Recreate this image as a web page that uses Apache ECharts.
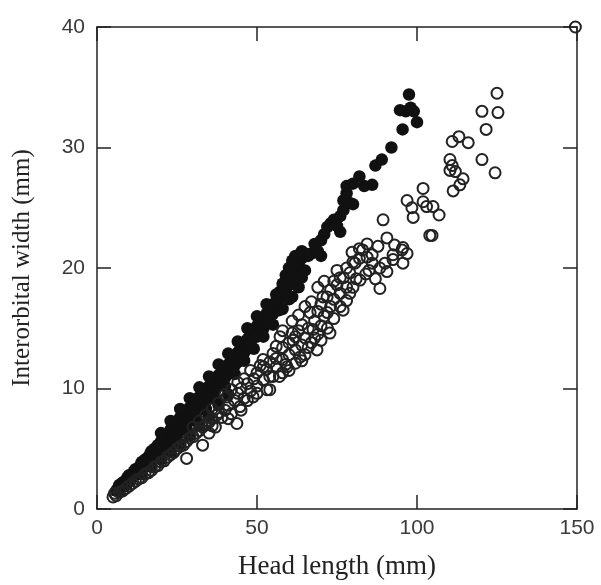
<!DOCTYPE html>
<html>
<head>
<meta charset="utf-8">
<script src="https://cdn.jsdelivr.net/npm/echarts@6/dist/echarts.min.js"></script>
<style>html,body{margin:0;padding:0;background:#fff;}#c{width:601px;height:585px;}</style>
</head>
<body>
<div id="c"></div>
<script>
// Axis ticks
var xTicks = [0, 50, 100, 150];
var yTicks = [0, 10, 20, 30, 40];

// Filled circles (x = head length, y = interorbital width)
var filledX = [6,6.5,7,7,7.5,8,8,8.5,9,9,9.5,10,10,10.5,11,11,11.5,12,12,12.5,13,13,13.5,14,14,14.5,15,15,15.5,16,16,16.5,17,17,17.5,18,18,18.5,19,19,19.5,20,20,20.5,21,21,21.5,22,22,22.5,23,23,23.5,24,24,24.5,25,25,25.5,26,26,26.5,27,27,27.5,28,28,28.5,29,29,29.5,30,30,30.5,31,31,31.5,32,32,33,33,33.5,34,34,35,35,36,36,37,37,38,38,39,39,40,40,41,41,42,42,43,43,44,44,45,45,46,46,47,47,48,48,49,50,50,51,52,52,53,53,54,55,55,56,57,57,58,58,59,59,60,60,61,61,62,62,63,64,65,63,64,65,67,68,69,70,70,71,72,73,74,75,76,76,77,77,78,78,79,80,80,82,83.5,86,87,89,92,95.5,94.7,96.5,98,99,100,97.5,
  20,23,26,29,32,35,38,41,44,47,50,53,56,22,25,28,31,34,37,40,43,46,49,52,55,58,61,62,64,66,60,
  14,17,20,23,26,29,32,35,38,41];
var filledY = [1.5,1.7,1.6,2.0,1.8,2.2,1.9,2.1,2.4,2.0,2.6,2.3,2.8,2.5,2.9,2.6,3.1,2.8,3.3,3.0,3.4,3.0,3.6,3.3,3.9,3.6,4.1,3.5,3.9,4.3,3.8,4.5,4.1,4.8,4.4,5.0,4.3,4.8,5.3,4.6,5.1,5.6,4.9,5.3,5.9,5.1,5.6,6.2,5.4,6.0,6.6,5.7,6.3,7.0,6.0,6.6,7.3,6.2,6.9,7.6,6.5,7.2,7.9,6.8,7.4,8.1,7.1,7.7,8.4,7.3,8.0,8.8,7.6,8.3,9.1,7.9,8.6,9.3,8.2,9.6,8.6,9.0,9.9,8.9,10.2,9.2,10.5,9.6,10.8,9.9,11.1,10.3,11.3,10.6,11.6,10.9,12.0,11.2,12.3,11.5,12.7,11.9,13.0,12.2,13.4,12.6,13.8,13.0,14.1,13.3,14.5,13.8,14.8,15.2,14.3,15.5,15.9,15.0,16.2,15.4,16.6,16.2,17.0,17.2,16.5,18.0,17.6,18.7,18.2,19.4,18.8,20.0,19.3,20.6,19.8,21.0,20.3,20.8,21.2,18.4,19.2,19.8,21.2,22.0,21.4,22.3,21.0,22.8,23.4,23.7,24.0,23.5,23.0,24.3,24.8,25.6,26.2,26.8,25.4,25.3,27.0,27.6,26.8,26.9,28.5,29.0,30.0,31.5,33.1,33.0,33.3,33.0,32.1,34.4,
  6.3,7.3,8.3,9.2,10.1,11.0,12.0,12.9,13.9,15.0,16.0,17.0,17.8,4.8,5.7,6.6,7.4,8.3,9.2,10.2,11.2,12.3,13.3,14.3,15.3,16.6,17.6,18.6,21.4,21.0,17.4,
  2.9,3.5,4.1,4.7,5.4,6.1,6.9,7.7,8.6,9.5];

// Open circles
var openX = [5,5.5,6,7,8,9,10,11,12,13,14,15,16,17,18,19,20,21,22,23,24,25,26,27,28,28,29,30,31,32,33,33,34,35,35,36,37,37.5,38,39,40,40.6,41,42,43,43.7,44,44.7,45,46,47,48,48.8,49,50,50,51,51.9,52,53,53.1,54,54,55,55,56,56,57,57.2,58,58,59,59.4,60,60,61,61.3,62,62,63,63.4,64,64,65,65,66,66.6,67,67.5,68,68.75,69,69,70,70,70.6,71,71.9,72,72.8,73,73,74,74,75,75,76,76,76.9,77,78,78,79,79,79.7,80,80.6,81,82.2,82,83,84.4,84.4,85,86,87.8,88.4,88.4,89.4,90.6,90.6,92.5,92.5,95.3,95.6,95.6,96.9,96.9,98.4,98.8,101.9,101.9,103,104,104.7,105,106.9,110.3,111,110.3,112,111,113.1,116,111.3,113.4,114.4,120.3,124.4,121.6,120.3,125.3,125,149.5,
  30,32,34,36,38,40,42,44,46,48,36,41,45,47,50,52,54,56,58,60,62,64,66,68,70,72,74,76,78,80,82,84,86,87,90,93,58,61,63,65,67,69,71];
var openY = [1.0,1.3,1.1,1.4,1.5,1.7,1.9,2.1,2.3,2.5,2.6,2.9,3.0,3.2,3.5,3.6,3.9,4.0,4.3,4.5,4.7,5.0,5.2,5.3,4.2,5.6,5.9,6.0,6.3,6.5,5.3,6.8,7.0,7.2,6.3,7.5,6.8,7.8,8.0,7.6,8.2,9.3,8.6,7.9,9.0,7.1,9.6,8.5,10.0,9.2,10.4,9.8,9.3,10.8,11.3,10.2,11.9,12.4,10.7,11.6,9.9,12.2,9.9,11.0,12.9,11.8,13.5,11.0,14.3,12.4,13.4,12.0,11.8,13.8,12.8,14.6,14.0,13.2,12.1,14.8,12.6,13.6,15.3,14.2,12.8,15.0,16.3,13.8,14.9,15.6,13.2,16.4,14.5,15.2,17.0,17.6,16.0,17.6,15.0,14.6,16.8,18.2,17.4,15.8,19.8,18.6,16.8,17.9,16.5,19.2,18.4,20.0,17.9,19.6,21.3,20.5,20.4,19.1,19.0,20.8,21.5,22.0,20.9,19.8,20.4,21.8,20.0,18.3,24.0,22.5,19.7,20.7,21.1,21.5,20.4,21.7,21.2,25.6,25.0,24.2,26.6,25.5,25.1,22.7,22.7,25.1,24.4,29.0,28.5,28.1,28.0,30.5,30.9,30.4,26.4,26.9,27.4,29.0,27.9,31.5,33.0,32.9,34.5,40.0,
  6.8,7.3,7.8,8.3,8.8,9.5,9.9,10.5,10.8,11.5,6.9,7.5,8.2,9.0,9.6,11.8,11.0,12.5,11.3,11.5,14.3,12.3,13.4,14.2,14.0,16.3,18.9,19.2,17.3,18.4,21.6,19.5,21.1,19.1,20.4,21.9,14.8,15.6,16.1,16.8,17.2,18.4,18.9];

function pairs(xs, ys) { var out = []; for (var i = 0; i < xs.length; i++) out.push([xs[i], ys[i]]); return out; }

var chart = echarts.init(document.getElementById('c'), null, { renderer: 'canvas' });
var lineStyle = { color: '#222', width: 1.5 };
var labelStyle = { fontFamily: 'Liberation Sans, Arial, sans-serif', fontSize: 21, color: '#3a3a3a' };
chart.setOption({
  animation: false,
  backgroundColor: '#fff',
  grid: { left: 97, right: 24, top: 27, bottom: 76, containLabel: false },
  xAxis: [
    { type: 'value', position: 'bottom', min: xTicks[0], max: xTicks[xTicks.length - 1], interval: 50,
      axisLine: { show: true, onZero: false, lineStyle: lineStyle },
      axisTick: { show: true, inside: true, length: 14, lineStyle: lineStyle },
      axisLabel: Object.assign({ margin: 9 }, labelStyle),
      splitLine: { show: false },
      name: 'Head length (mm)', nameLocation: 'middle', nameGap: 44,
      nameTextStyle: { fontFamily: 'Liberation Serif, Times New Roman, serif', fontSize: 27, color: '#222' } },
    { type: 'value', position: 'top', min: xTicks[0], max: xTicks[xTicks.length - 1], interval: 50,
      axisLine: { show: true, onZero: false, lineStyle: lineStyle },
      axisTick: { show: true, inside: true, length: 14, lineStyle: lineStyle },
      axisLabel: { show: false }, splitLine: { show: false } }
  ],
  yAxis: [
    { type: 'value', position: 'left', min: yTicks[0], max: yTicks[yTicks.length - 1], interval: 10,
      axisLine: { show: true, onZero: false, lineStyle: lineStyle },
      axisTick: { show: true, inside: true, length: 14, lineStyle: lineStyle },
      axisLabel: Object.assign({ margin: 12 }, labelStyle),
      splitLine: { show: false },
      name: 'Interorbital width (mm)', nameLocation: 'middle', nameGap: 62,
      nameTextStyle: { fontFamily: 'Liberation Serif, Times New Roman, serif', fontSize: 25, color: '#222' } },
    { type: 'value', position: 'right', min: yTicks[0], max: yTicks[yTicks.length - 1], interval: 10,
      axisLine: { show: true, onZero: false, lineStyle: lineStyle },
      axisTick: { show: true, inside: true, length: 14, lineStyle: lineStyle },
      axisLabel: { show: false }, splitLine: { show: false } }
  ],
  series: [
    { type: 'scatter', name: 'filled', xAxisIndex: 0, yAxisIndex: 0, data: pairs(filledX, filledY),
      symbol: 'circle', symbolSize: 12.5, itemStyle: { color: '#111', opacity: 1 }, clip: false, z: 2 },
    { type: 'scatter', name: 'open', xAxisIndex: 0, yAxisIndex: 0, data: pairs(openX, openY),
      symbol: 'circle', symbolSize: 11,
      itemStyle: { color: 'rgba(255,255,255,0)', borderColor: '#222', borderWidth: 2, opacity: 1 }, clip: false, z: 3 }
  ]
});
</script>
</body>
</html>
